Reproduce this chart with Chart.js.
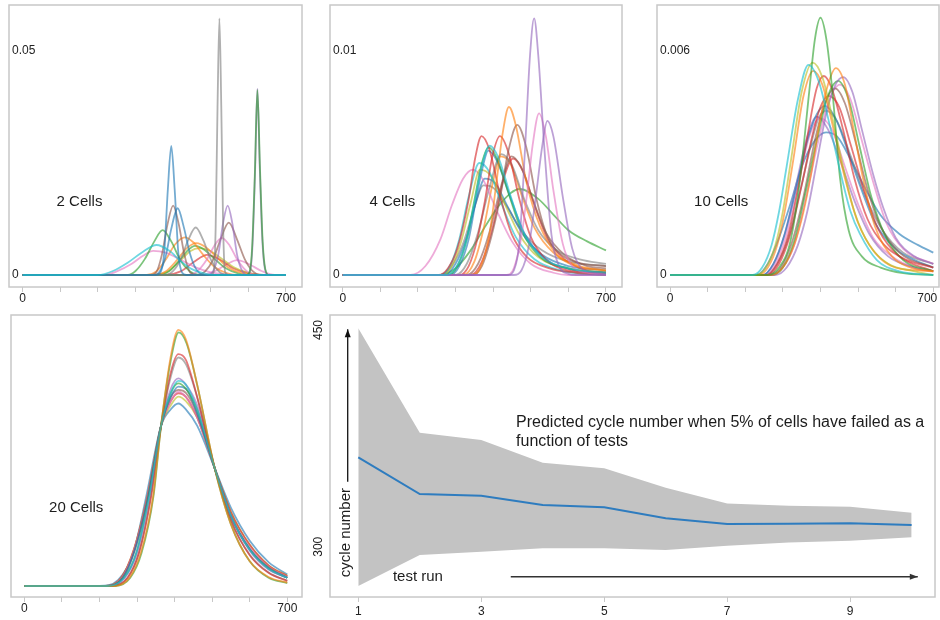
<!DOCTYPE html>
<html>
<head>
<meta charset="utf-8">
<script src="https://cdn.jsdelivr.net/npm/chart.js@4.4.1/dist/chart.umd.min.js"></script>
<style>
  body { margin: 0; background: #fff; width: 940px; height: 620px; position: relative; overflow: hidden; }
  canvas { position: absolute; }
</style>
</head>
<body>
<canvas id="p2"></canvas>
<canvas id="p4"></canvas>
<canvas id="p10"></canvas>
<canvas id="p20"></canvas>
<canvas id="pRun"></canvas>
<script>
// ---- data: each curve is a list of [x, density] points ----
const cells2 = [
  [[0,0],[200,0],[240,0.0009],[280,0.0028],[320,0.0052],[356,0.0067],[390,0.0054],[420,0.0031],[450,0.0013],[490,0.0002],[520,0],[700,0]],
  [[0,0],[355,0],[366,0.0005],[376,0.0047],[386,0.0192],[395,0.0288],[404,0.0192],[414,0.0047],[424,0.0005],[435,0],[700,0]],
  [[0,0],[500,0],[508,0.0008],[513,0.0104],[518,0.0375],[523,0.0573],[528,0.0375],[533,0.0104],[538,0.0008],[546,0],[700,0]],
  [[0,0],[596,0],[604,0.0009],[610,0.0061],[617,0.0218],[624,0.0413],[631,0.0235],[638,0.0075],[645,0.0013],[655,0],[700,0]],
  [[0,0],[597,0],[605,0.0010],[611,0.0066],[618,0.0236],[624,0.0416],[630,0.0248],[637,0.0080],[644,0.0014],[654,0],[700,0]],
  [[0,0],[340,0],[355,0.0006],[370,0.0045],[385,0.0113],[400,0.0155],[415,0.0113],[430,0.0045],[445,0.0006],[465,0],[700,0]],
  [[0,0],[350,0],[365,0.0009],[380,0.0041],[395,0.0103],[412,0.0149],[428,0.0108],[445,0.0047],[462,0.0012],[485,0],[700,0]],
  [[0,0],[380,0],[400,0.0009],[420,0.0035],[440,0.0078],[460,0.0106],[480,0.0078],[500,0.0035],[520,0.0009],[545,0],[700,0]],
  [[0,0],[490,0],[505,0.0007],[520,0.0045],[533,0.0117],[545,0.0155],[557,0.0117],[570,0.0045],[585,0.0007],[600,0],[700,0]],
  [[0,0],[465,0],[485,0.0008],[505,0.0032],[525,0.0077],[548,0.0117],[570,0.0079],[590,0.0036],[610,0.001],[635,0],[700,0]],
  [[0,0],[440,0],[465,0.0009],[490,0.0035],[510,0.0066],[529,0.0083],[550,0.0066],[570,0.0035],[595,0.0009],[625,0],[700,0]],
  [[0,0],[280,0],[300,0.0009],[325,0.0036],[350,0.0075],[372,0.0100],[395,0.0075],[420,0.0032],[445,0.0008],[470,0],[700,0]],
  [[0,0],[215,0],[250,0.0008],[290,0.0025],[320,0.0043],[347,0.0054],[380,0.005],[420,0.0034],[460,0.0017],[500,0.0006],[550,0.0001],[580,0],[700,0]],
  [[0,0],[330,0],[355,0.0008],[380,0.0034],[405,0.0068],[431,0.0084],[455,0.0072],[480,0.0045],[510,0.0018],[540,0.0005],[575,0],[700,0]],
  [[0,0],[350,0],[380,0.0008],[410,0.0033],[435,0.0059],[462,0.0071],[490,0.006],[520,0.0036],[550,0.0015],[585,0.0004],[620,0],[700,0]],
  [[0,0],[360,0],[390,0.0009],[420,0.0036],[440,0.0056],[458,0.0065],[480,0.0058],[510,0.0036],[540,0.0015],[575,0.0003],[600,0],[700,0]],
  [[0,0],[350,0],[385,0.0008],[420,0.0033],[445,0.0053],[470,0.006],[500,0.0053],[530,0.0036],[560,0.0018],[600,0.0005],[640,0],[700,0]],
  [[0,0],[380,0],[420,0.0008],[455,0.0029],[490,0.0045],[525,0.0034],[560,0.0015],[600,0.0004],[640,0],[700,0]],
  [[0,0],[470,0],[510,0.0008],[545,0.0025],[570,0.0033],[600,0.0025],[635,0.0009],[670,0],[700,0]]
];
const cells2Colors = ['cyan','blue','gray','green','purple','brown','blue','gray','purple','brown','pink','green','pink','orange','orange','green','olive','red','pink'];

const cells4 = [
  [[0,0],[275,0],[300,0.0003],[325,0.0013],[350,0.0032],[370,0.0049],[391,0.00577],[415,0.0052],[445,0.0036],[480,0.0019],[530,0.0008],[600,0.0003],[700,0.0001]],
  [[0,0],[440,0],[455,0.0002],[470,0.0015],[485,0.0057],[498,0.0098],[509,0.01146],[520,0.0098],[536,0.0057],[555,0.0018],[575,0.0004],[600,0.00005],[620,0],[700,0]],
  [[0,0],[455,0],[475,0.0002],[495,0.0013],[515,0.0037],[530,0.0057],[544,0.00688],[560,0.0062],[586,0.0034],[610,0.0012],[635,0.0003],[670,0.0001],[700,0.00005]],
  [[0,0],[435,0],[455,0.0003],[475,0.0017],[490,0.0036],[505,0.0058],[522,0.00722],[540,0.0062],[560,0.0038],[585,0.0014],[610,0.0004],[650,0.0001],[700,0]],
  [[0,0],[340,0],[365,0.0003],[390,0.0018],[410,0.0043],[425,0.0063],[442,0.0075],[460,0.0067],[489,0.0041],[524,0.0022],[570,0.0009],[620,0.0004],[700,0.0002]],
  [[0,0],[345,0],[370,0.0004],[395,0.0017],[418,0.0034],[440,0.0055],[464,0.0067],[488,0.0057],[515,0.0034],[545,0.0017],[590,0.0008],[640,0.0005],[700,0.0004]],
  [[0,0],[255,0],[280,0.0003],[305,0.0012],[334,0.0033],[352,0.0052],[369,0.0062],[390,0.0056],[422,0.0033],[450,0.0018],[490,0.0008],[550,0.0003],[620,0.0001],[700,0]],
  [[0,0],[310,0],[335,0.0004],[358,0.0016],[378,0.0033],[398,0.0053],[418,0.0062],[440,0.0055],[471,0.0033],[500,0.0017],[540,0.0007],[600,0.0002],[700,0.0001]],
  [[0,0],[280,0],[305,0.0004],[330,0.0016],[352,0.0035],[370,0.005],[388,0.0057],[410,0.0052],[440,0.0037],[475,0.002],[525,0.0008],[600,0.0003],[700,0.0001]],
  [[0,0],[285,0],[310,0.0004],[335,0.0016],[357,0.0036],[372,0.0048],[387,0.00555],[410,0.0051],[445,0.0035],[485,0.0018],[540,0.0007],[620,0.0002],[700,0.0001]],
  [[0,0],[260,0],[285,0.0004],[310,0.0016],[335,0.0035],[363,0.005],[390,0.0046],[422,0.0032],[460,0.0017],[510,0.0007],[580,0.0002],[700,0]],
  [[0,0],[265,0],[290,0.0004],[315,0.0015],[340,0.0032],[365,0.0047],[395,0.0044],[430,0.0032],[470,0.0018],[520,0.0008],[600,0.0003],[700,0.0001]],
  [[0,0],[180,0],[220,0.0004],[260,0.0016],[290,0.0031],[320,0.0043],[347,0.0047],[375,0.0042],[409,0.0029],[450,0.0015],[500,0.0005],[560,0.0001],[600,0],[700,0]],
  [[0,0],[300,0],[330,0.0005],[360,0.0019],[390,0.0039],[422,0.0054],[450,0.0049],[480,0.0035],[520,0.002],[570,0.0011],[630,0.0007],[700,0.0005]],
  [[0,0],[330,0],[360,0.0005],[390,0.0019],[420,0.0039],[449,0.0053],[475,0.0048],[505,0.0034],[540,0.0019],[590,0.0009],[650,0.0004],[700,0.0003]],
  [[0,0],[320,0],[350,0.0006],[375,0.0021],[400,0.0042],[420,0.0053],[445,0.005],[475,0.0036],[510,0.0021],[560,0.001],[630,0.0004],[700,0.0002]],
  [[0,0],[340,0],[370,0.0006],[400,0.0022],[428,0.0043],[453,0.0052],[480,0.0046],[510,0.0031],[545,0.0016],[590,0.0007],[650,0.0002],[700,0.0001]],
  [[0,0],[270,0],[300,0.0005],[330,0.0017],[355,0.0033],[378,0.0043],[405,0.0041],[440,0.003],[480,0.0018],[530,0.0009],[600,0.0004],[700,0.0002]],
  [[0,0],[260,0],[290,0.0004],[320,0.0014],[350,0.003],[374,0.004],[400,0.0039],[435,0.0031],[475,0.002],[530,0.0011],[600,0.0006],[700,0.0004]],
  [[0,0],[260,0],[300,0.0003],[340,0.0011],[380,0.0022],[420,0.0032],[471,0.00384],[520,0.0034],[560,0.0027],[600,0.002],[650,0.0015],[700,0.0011]]
];
const cells4Colors = ['cyan','purple','purple','pink','orange','brown','red','red','green','blue','cyan','olive','pink','gray','brown','orange','red','blue','gray','green'];

const cells10 = [
  [[0,0],[220,0],[245,0.0002],[270,0.0008],[290,0.0017],[310,0.0029],[340,0.0047],[368,0.00563],[395,0.0052],[425,0.004],[452,0.0028],[480,0.0017],[505,0.0011],[550,0.0004],[610,0.0001],[700,0]],
  [[0,0],[260,0],[290,0.0002],[320,0.0009],[345,0.0025],[370,0.0049],[385,0.0063],[400,0.00689],[416,0.0063],[432,0.0049],[452,0.0026],[475,0.0012],[510,0.0005],[560,0.0002],[620,0.00005],[700,0]],
  [[0,0],[230,0],[255,0.0002],[280,0.0008],[300,0.0017],[322,0.0031],[350,0.0049],[379,0.00569],[405,0.0053],[432,0.0042],[460,0.0029],[490,0.0017],[530,0.0008],[580,0.0003],[650,0.0001],[700,0]],
  [[0,0],[235,0],[260,0.0002],[285,0.0008],[305,0.0017],[328,0.0031],[355,0.0048],[381,0.00547],[405,0.0051],[435,0.0039],[465,0.0026],[500,0.0014],[545,0.0006],[600,0.0002],[700,0.0001]],
  [[0,0],[270,0],[300,0.0002],[330,0.0008],[355,0.0017],[375,0.0027],[400,0.0042],[420,0.0051],[441,0.00554],[465,0.0051],[490,0.0038],[515,0.0025],[545,0.0013],[590,0.0005],[640,0.0002],[700,0.0001]],
  [[0,0],[255,0],[285,0.0003],[315,0.0011],[340,0.0023],[365,0.0037],[390,0.005],[409,0.00533],[430,0.005],[460,0.0039],[490,0.0026],[525,0.0015],[570,0.0008],[630,0.0004],[700,0.0002]],
  [[0,0],[280,0],[310,0.0002],[340,0.0008],[365,0.0017],[390,0.003],[415,0.0043],[440,0.0051],[461,0.0053],[485,0.0049],[510,0.0039],[540,0.0027],[567,0.0018],[600,0.001],[650,0.0005],[700,0.0003]],
  [[0,0],[270,0],[300,0.0002],[330,0.0009],[360,0.0022],[390,0.0036],[420,0.0048],[447,0.0052],[475,0.0047],[505,0.0034],[535,0.0021],[570,0.0011],[620,0.0004],[700,0.0001]],
  [[0,0],[265,0],[295,0.0002],[325,0.0009],[355,0.0021],[385,0.0036],[412,0.0046],[439,0.005],[465,0.0046],[495,0.0035],[525,0.0023],[560,0.0013],[610,0.0006],[700,0.0002]],
  [[0,0],[270,0],[300,0.0002],[330,0.0008],[360,0.002],[390,0.0034],[420,0.0046],[452,0.0051],[480,0.0047],[510,0.0036],[540,0.0025],[575,0.0014],[620,0.0007],[700,0.0003]],
  [[0,0],[260,0],[290,0.0003],[320,0.0011],[350,0.0024],[380,0.0038],[400,0.0045],[421,0.0048],[450,0.0045],[480,0.0035],[515,0.0023],[555,0.0012],[610,0.0005],[700,0.0001]],
  [[0,0],[245,0],[275,0.0003],[305,0.0011],[335,0.0023],[365,0.0036],[390,0.0043],[412,0.00453],[440,0.0042],[470,0.0034],[505,0.0024],[545,0.0014],[600,0.0007],[650,0.0004],[700,0.0002]],
  [[0,0],[245,0],[275,0.0003],[305,0.0011],[335,0.0024],[362,0.0036],[390,0.00424],[420,0.0039],[455,0.003],[490,0.002],[530,0.0011],[580,0.0005],[650,0.0002],[700,0.0001]],
  [[0,0],[250,0],[280,0.0003],[310,0.0011],[340,0.0024],[370,0.0037],[399,0.0042],[430,0.0039],[465,0.0029],[500,0.0019],[540,0.001],[590,0.0005],[650,0.0002],[700,0.0001]],
  [[0,0],[255,0],[285,0.0003],[315,0.001],[345,0.0022],[375,0.0035],[395,0.0042],[416,0.0044],[445,0.0041],[480,0.0032],[520,0.0021],[565,0.0012],[620,0.0006],[700,0.0003]],
  [[0,0],[230,0],[260,0.0003],[290,0.001],[320,0.0019],[350,0.0029],[385,0.0036],[415,0.00382],[445,0.0037],[480,0.0031],[520,0.0023],[560,0.0016],[610,0.0011],[660,0.0008],[700,0.0006]]
];
const cells10Colors = ['cyan','green','olive','orange','orange','red','purple','green','brown','pink','red','blue','purple','pink','gray','blue'];

const cells20 = [
  [[0,0],[222,0],[266,0.0002],[298,0.0008],[333,0.0022],[364,0.0039],[390,0.0047],[410,0.00499],[430,0.0049],[460,0.0043],[507,0.00286],[550,0.0017],[600,0.00088],[650,0.00042],[700,0.0002]],
  [[0,0],[240,0],[280,0.0002],[310,0.0008],[343,0.0022],[364,0.0039],[390,0.0056],[410,0.00623],[430,0.006],[460,0.0049],[507,0.00286],[550,0.0015],[600,0.0006],[650,0.00022],[700,0.00008]],
  [[0,0],[242,0],[282,0.0002],[312,0.0008],[344,0.0022],[364,0.0039],[390,0.0055],[411,0.00617],[432,0.0059],[460,0.0049],[507,0.00285],[550,0.0015],[600,0.0006],[650,0.0002],[700,0.00007]],
  [[0,0],[232,0],[275,0.0002],[305,0.0008],[338,0.0022],[364,0.0039],[390,0.0052],[410,0.00564],[430,0.0055],[460,0.0046],[507,0.00286],[550,0.0016],[600,0.00075],[650,0.00032],[700,0.00012]],
  [[0,0],[232,0],[275,0.0002],[305,0.0008],[337,0.0022],[364,0.0039],[390,0.0051],[410,0.00556],[430,0.0054],[460,0.0046],[507,0.00287],[550,0.0016],[600,0.00076],[650,0.00033],[700,0.00013]],
  [[0,0],[225,0],[268,0.0002],[300,0.0008],[334,0.0022],[364,0.0039],[390,0.0048],[410,0.00505],[430,0.0049],[460,0.0044],[507,0.00286],[550,0.0017],[600,0.00086],[650,0.0004],[700,0.0002]],
  [[0,0],[222,0],[265,0.0002],[298,0.0008],[332,0.0022],[364,0.0039],[390,0.0047],[410,0.00493],[430,0.0048],[460,0.0043],[507,0.00286],[550,0.0017],[600,0.00088],[650,0.00042],[700,0.0002]],
  [[0,0],[218,0],[262,0.0002],[295,0.0009],[330,0.0022],[364,0.0039],[390,0.0046],[410,0.00485],[430,0.0048],[460,0.0042],[507,0.00286],[550,0.0017],[600,0.0009],[650,0.00044],[700,0.0002]],
  [[0,0],[218,0],[262,0.0002],[295,0.0009],[330,0.0022],[364,0.0039],[390,0.0046],[410,0.00477],[430,0.0047],[460,0.0042],[507,0.00286],[550,0.0017],[600,0.0009],[650,0.00045],[700,0.0002]],
  [[0,0],[216,0],[260,0.0002],[293,0.0009],[329,0.0022],[364,0.0039],[390,0.0045],[410,0.00473],[430,0.0046],[460,0.0041],[507,0.00286],[550,0.0017],[600,0.00095],[650,0.00047],[700,0.00022]],
  [[0,0],[215,0],[258,0.0002],[292,0.0009],[328,0.0022],[364,0.0039],[390,0.0045],[410,0.00469],[430,0.0046],[460,0.0041],[507,0.00286],[550,0.0018],[600,0.001],[650,0.0005],[700,0.00024]],
  [[0,0],[215,0],[258,0.0002],[292,0.0009],[328,0.0022],[364,0.0039],[390,0.0044],[410,0.00461],[430,0.0045],[460,0.0041],[507,0.00286],[550,0.0018],[600,0.001],[650,0.0005],[700,0.00025]],
  [[0,0],[200,0],[250,0.00015],[290,0.0008],[325,0.0022],[364,0.0039],[390,0.0043],[410,0.00444],[430,0.0043],[460,0.0039],[507,0.00286],[550,0.0019],[600,0.0011],[650,0.00058],[700,0.00028]]
];
const cells20Colors = ['cyan','orange','green','red','gray','purple','green','blue','brown','pink','red','olive','blue'];

const testRun = [1, 2, 3, 4, 5, 6, 7, 8, 9, 10];
const upperBand = [451.2, 378.9, 373.9, 358.2, 354.3, 340.8, 330.0, 328.4, 327.7, 323.5];
const lowerBand = [272.8, 294.3, 296.5, 298.9, 298.9, 297.7, 300.7, 303.0, 304.2, 306.5];
const medianCycle = [361.9, 336.5, 335.3, 328.9, 327.3, 319.7, 315.7, 315.9, 316.2, 315.0];

const densityTicks = [0, 100, 200, 300, 400, 500, 600, 700];
const densityLabels = [0, 700];
const runTicks = [1, 3, 5, 7, 9];
const cycleTicks = [300, 450];

Chart.defaults.font.family = '"Liberation Sans", Arial, sans-serif';
Chart.defaults.color = '#222';

const tab = {
  blue: '31,119,180', orange: '255,127,14', green: '44,160,44', red: '214,39,40',
  purple: '148,103,189', brown: '140,86,75', pink: '227,119,194', gray: '127,127,127',
  olive: '188,189,34', cyan: '23,190,207'
};

function curveSets(curves, colors) {
  return curves.map((c, i) => ({
    data: c.map(p => ({ x: p[0], y: p[1] })),
    borderColor: 'rgba(' + tab[colors[i]] + ',0.62)',
    borderWidth: 1.8,
    fill: false
  }));
}

// grey frame round the plot area
const frame = {
  id: 'frame',
  afterDraw(chart) {
    const a = chart.chartArea, ctx = chart.ctx;
    ctx.save();
    ctx.strokeStyle = '#c8c8c8';
    ctx.lineWidth = 1.5;
    ctx.strokeRect(a.left, a.top, a.right - a.left, a.bottom - a.top);
    ctx.restore();
  }
};

function notes(items, arrows) {
  return {
    id: 'notes',
    afterDraw(chart) {
      const ctx = chart.ctx, sx = chart.scales.x, sy = chart.scales.y;
      items.forEach(n => {
        ctx.save();
        ctx.translate(sx.getPixelForValue(n.x), sy.getPixelForValue(n.y));
        if (n.rot) ctx.rotate(n.rot);
        ctx.font = (n.size || 15) + 'px "Liberation Sans", Arial, sans-serif';
        ctx.fillStyle = '#1c1c1c';
        ctx.textAlign = n.align || 'left';
        ctx.textBaseline = 'middle';
        ctx.fillText(n.text, 0, 0);
        ctx.restore();
      });
      (arrows || []).forEach(a => {
        const x1 = sx.getPixelForValue(a.from[0]), y1 = sy.getPixelForValue(a.from[1]);
        const x2 = sx.getPixelForValue(a.to[0]), y2 = sy.getPixelForValue(a.to[1]);
        const ang = Math.atan2(y2 - y1, x2 - x1);
        ctx.save();
        ctx.strokeStyle = a.color;
        ctx.fillStyle = a.color;
        ctx.lineWidth = 1.3;
        ctx.beginPath();
        ctx.moveTo(x1, y1);
        ctx.lineTo(x2, y2);
        ctx.stroke();
        ctx.beginPath();
        ctx.moveTo(x2, y2);
        ctx.lineTo(x2 - 8 * Math.cos(ang) + 3 * Math.sin(ang), y2 - 8 * Math.sin(ang) - 3 * Math.cos(ang));
        ctx.lineTo(x2 - 8 * Math.cos(ang) - 3 * Math.sin(ang), y2 - 8 * Math.sin(ang) + 3 * Math.cos(ang));
        ctx.closePath();
        ctx.fill();
        ctx.restore();
      });
    }
  };
}

function noPad(scale) {
  scale.paddingLeft = 0; scale.paddingRight = 0;
  scale.paddingTop = 0; scale.paddingBottom = 0;
}

function panel(id, box, cfg) {
  const cv = document.getElementById(id);
  const extra = cfg.leftRoom || 0;
  cv.width = box[2] + 4 + extra;
  cv.height = box[3] + 2 + 24;
  cv.style.left = (box[0] - 2 - extra) + 'px';
  cv.style.top = (box[1] - 2) + 'px';
  new Chart(cv, {
    type: 'line',
    data: { datasets: cfg.datasets },
    options: {
      responsive: false,
      animation: false,
      layout: { padding: { left: 2 + extra, right: 2, top: 2, bottom: 0 } },
      elements: { point: { radius: 0 }, line: { cubicInterpolationMode: cfg.mode || 'monotone' } },
      plugins: { legend: { display: false }, tooltip: { enabled: false } },
      scales: {
        x: {
          type: 'linear', min: cfg.x[0], max: cfg.x[1],
          afterBuildTicks: s => { s.ticks = cfg.xTicks.map(v => ({ value: v })); },
          afterFit: s => { s.height = 24; noPad(s); },
          grid: { drawOnChartArea: false, drawTicks: true, tickLength: 5, color: '#c8c8c8' },
          border: { display: false },
          ticks: {
            autoSkip: false, maxRotation: 0, padding: cfg.xPad, font: { size: 12 },
            callback: v => cfg.xLabels.includes(v) ? (cfg.xFormat ? cfg.xFormat(v) : String(v)) : ''
          }
        },
        y: {
          type: 'linear', min: cfg.y[0], max: cfg.y[1],
          display: cfg.yLabels ? true : false,
          afterBuildTicks: s => { s.ticks = (cfg.yLabels || []).map(v => ({ value: v })); },
          afterFit: s => { s.width = 0; noPad(s); },
          grid: { display: false },
          border: { display: false },
          ticks: { font: { size: 12 }, mirror: true, padding: 3, callback: v => String(v) }
        }
      }
    },
    plugins: [frame, notes(cfg.notes, cfg.arrows)]
  });
}

panel('p2', [9, 5, 293, 282], {
  datasets: curveSets(cells2, cells2Colors),
  x: [-36.4, 742.6], y: [-0.00268, 0.06027],
  xTicks: densityTicks, xLabels: densityLabels, xPad: -1,
  yLabels: [0, 0.05],
  notes: [{ text: '2 Cells', x: 90, y: 0.0164 }]
});

panel('p4', [330, 5, 292, 282], {
  datasets: curveSets(cells4, cells4Colors),
  x: [-33.8, 742.6], y: [-0.000536, 0.012054],
  xTicks: densityTicks, xLabels: densityLabels, xPad: -1,
  yLabels: [0, 0.01],
  notes: [{ text: '4 Cells', x: 71, y: 0.00327 }]
});

panel('p10', [657, 5, 282, 282], {
  datasets: curveSets(cells10, cells10Colors),
  x: [-34.6, 715.2], y: [-0.000321, 0.007232],
  xTicks: densityTicks, xLabels: densityLabels, xPad: -1,
  // last label pulled in a little so it stays inside the page
  xFormat: v => v === 700 ? '700\u2003' : String(v),
  yLabels: [0, 0.006],
  notes: [{ text: '10 Cells', x: 64, y: 0.00196 }]
});

panel('p20', [11, 315, 291, 282], {
  datasets: curveSets(cells20, cells20Colors),
  x: [-35.4, 739.1], y: [-0.000268, 0.006594],
  xTicks: densityTicks, xLabels: densityLabels, xPad: -1,
  notes: [{ text: '20 Cells', x: 66, y: 0.0019 }]
});

panel('pRun', [330, 315, 605, 282], {
  mode: 'default',
  leftRoom: 22,
  datasets: [
    { data: testRun.map((x, i) => ({ x: x, y: medianCycle[i] })), borderColor: '#2e7cbf', borderWidth: 2, fill: false, tension: 0 },
    { data: testRun.map((x, i) => ({ x: x, y: upperBand[i] })), borderColor: 'rgba(0,0,0,0)', borderWidth: 0, backgroundColor: 'rgb(195,195,195)', fill: '+1', tension: 0 },
    { data: testRun.map((x, i) => ({ x: x, y: lowerBand[i] })), borderColor: 'rgba(0,0,0,0)', borderWidth: 0, fill: false, tension: 0 }
  ],
  x: [0.54, 10.38], y: [265.2, 460.4],
  xTicks: runTicks, xLabels: runTicks, xPad: 2,
  notes: [
    { text: String(cycleTicks[1]), x: 0.35, y: cycleTicks[1], rot: -Math.PI / 2, align: 'center', size: 12 },
    { text: String(cycleTicks[0]), x: 0.35, y: cycleTicks[0], rot: -Math.PI / 2, align: 'center', size: 12 },
    { text: 'Predicted cycle number when 5% of cells have failed as a', x: 3.566, y: 385.6, size: 16 },
    { text: 'function of tests', x: 3.566, y: 372.5, size: 16 },
    { text: 'cycle number', x: 0.79, y: 309.8, rot: -Math.PI / 2, align: 'center' },
    { text: 'test run', x: 1.563, y: 279.2 }
  ],
  arrows: [
    { from: [0.828, 345], to: [0.828, 450.5], color: '#111' },
    { from: [3.48, 279.2], to: [10.1, 279.2], color: '#333' }
  ]
});
</script>
</body>
</html>
